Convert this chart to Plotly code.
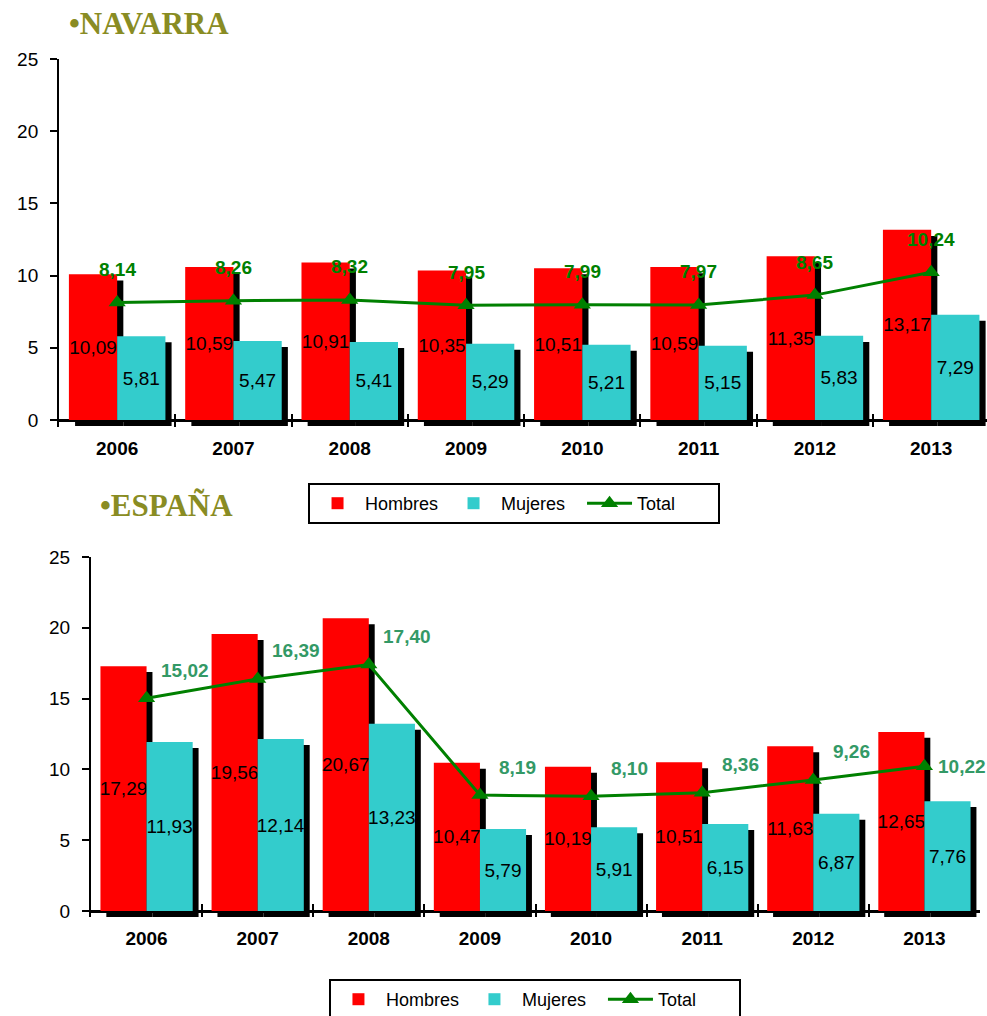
import plotly.graph_objects as go

years = ["2006", "2007", "2008", "2009", "2010", "2011", "2012", "2013"]
nav_hombres = [10.09, 10.59, 10.91, 10.35, 10.51, 10.59, 11.35, 13.17]
nav_mujeres = [5.81, 5.47, 5.41, 5.29, 5.21, 5.15, 5.83, 7.29]
nav_total = [8.14, 8.26, 8.32, 7.95, 7.99, 7.97, 8.65, 10.24]
esp_hombres = [17.29, 19.56, 20.67, 10.47, 10.19, 10.51, 11.63, 12.65]
esp_mujeres = [11.93, 12.14, 13.23, 5.79, 5.91, 6.15, 6.87, 7.76]
esp_total = [15.02, 16.39, 17.40, 8.19, 8.10, 8.36, 9.26, 10.22]

RED = "#FF0000"
CYAN = "#33CCCC"
GREEN = "#008000"
FONT = "Arial, Liberation Sans, sans-serif"


def fmt(v):
    return f"{v:.2f}".replace(".", ",")


fig = go.Figure()

BW = 0.415


def add_panel(hombres, mujeres, total, xa, ya, legend):
    # drop shadows
    for vals, off in ((hombres, -BW), (mujeres, 0)):
        fig.add_trace(go.Bar(x=years, y=vals, base=-0.42, offset=off + 0.053, width=BW,
                             marker=dict(color="black", line_width=0), showlegend=False,
                             hoverinfo="skip", xaxis=xa, yaxis=ya))
    for vals, name, col in ((hombres, "Hombres", RED), (mujeres, "Mujeres", CYAN)):
        fig.add_trace(go.Bar(x=years, y=vals, name=name,
                             offset=-BW if name == "Hombres" else 0, width=BW,
                             marker=dict(color=col, line_width=0),
                             text=[fmt(v) for v in vals], textposition="inside",
                             insidetextanchor="middle", textangle=0, constraintext="none",
                             textfont=dict(family=FONT, size=19, color="black"),
                             xaxis=xa, yaxis=ya, legend=legend))
    fig.add_trace(go.Scatter(x=years, y=total, name="Total", mode="lines+markers",
                             line=dict(color=GREEN, width=3),
                             marker=dict(symbol="triangle-up", size=15, color=GREEN),
                             xaxis=xa, yaxis=ya, legend=legend))


add_panel(nav_hombres, nav_mujeres, nav_total, "x", "y", "legend")
add_panel(esp_hombres, esp_mujeres, esp_total, "x2", "y2", "legend2")

annotations = []
for i, v in enumerate(nav_total):
    annotations.append(dict(x=i, y=v, xref="x", yref="y", text=fmt(v), showarrow=False,
                            yshift=33, font=dict(family=FONT, size=19, color=GREEN, weight="bold")))
for i, v in enumerate(esp_total):
    last = i == len(esp_total) - 1
    annotations.append(dict(x=i, y=v, xref="x2", yref="y2", text=fmt(v), showarrow=False,
                            xshift=38, yshift=0 if last else 28,
                            font=dict(family=FONT, size=19, color="#339966", weight="bold")))

annotations.append(dict(x=0.068, y=0.9764, xref="paper", yref="paper", xanchor="left",
                        yanchor="middle", text="•NAVARRA", showarrow=False,
                        font=dict(family="Liberation Serif, serif", size=31, color="#898C23",
                                  weight="bold")))
annotations.append(dict(x=0.099, y=0.502, xref="paper", yref="paper", xanchor="left",
                        yanchor="middle", text="•ESPAÑA", showarrow=False,
                        font=dict(family="Liberation Serif, serif", size=31, color="#898C23",
                                  weight="bold")))

xcommon = dict(type="category", showline=False, ticks="inside", tickson="boundaries",
               ticklen=13, tickwidth=2, tickcolor="black", showgrid=False, zeroline=False,
               tickfont=dict(family=FONT, size=19, color="black", weight="bold"),
               ticklabelstandoff=8, automargin=False)
ycommon = dict(range=[-0.45, 25], dtick=5, tick0=0, showline=True, linecolor="black",
               linewidth=2, ticks="outside", ticklen=7, tickwidth=2, tickcolor="black",
               showgrid=False, zeroline=True, zerolinecolor="black", zerolinewidth=3,
               tickfont=dict(family=FONT, size=19, color="black"), ticklabelstandoff=8,
               automargin=False)

legcommon = dict(orientation="h", xanchor="center", yanchor="top", bordercolor="black",
                 borderwidth=2, bgcolor="white", font=dict(family=FONT, size=18, color="black"),
                 itemwidth=45, entrywidth=76)

fig.update_layout(
    width=987, height=1016,
    margin=dict(l=0, r=0, t=0, b=0, autoexpand=False),
    paper_bgcolor="white", plot_bgcolor="white",
    barmode="overlay",
    xaxis=dict(domain=[0.0598, 1.0], range=[-0.5, 7.48], anchor="y", **xcommon),
    yaxis=dict(domain=[0.5802, 0.9419], anchor="x", **ycommon),
    xaxis2=dict(domain=[0.0922, 0.9929], range=[-0.5, 7.5], anchor="y2", **xcommon),
    yaxis2=dict(domain=[0.0970, 0.4518], anchor="x2", **ycommon),
    legend=dict(x=0.5208, y=0.5246, **legcommon),
    legend2=dict(x=0.542, y=0.0364, **legcommon),
    annotations=annotations,
    showlegend=True,
)

fig.write_html(
    "out.html",
    config={"displayModeBar": False},
    post_script="document.body.style.margin='0';document.body.style.padding='0';"
                "document.documentElement.style.overflow='hidden';",
)
